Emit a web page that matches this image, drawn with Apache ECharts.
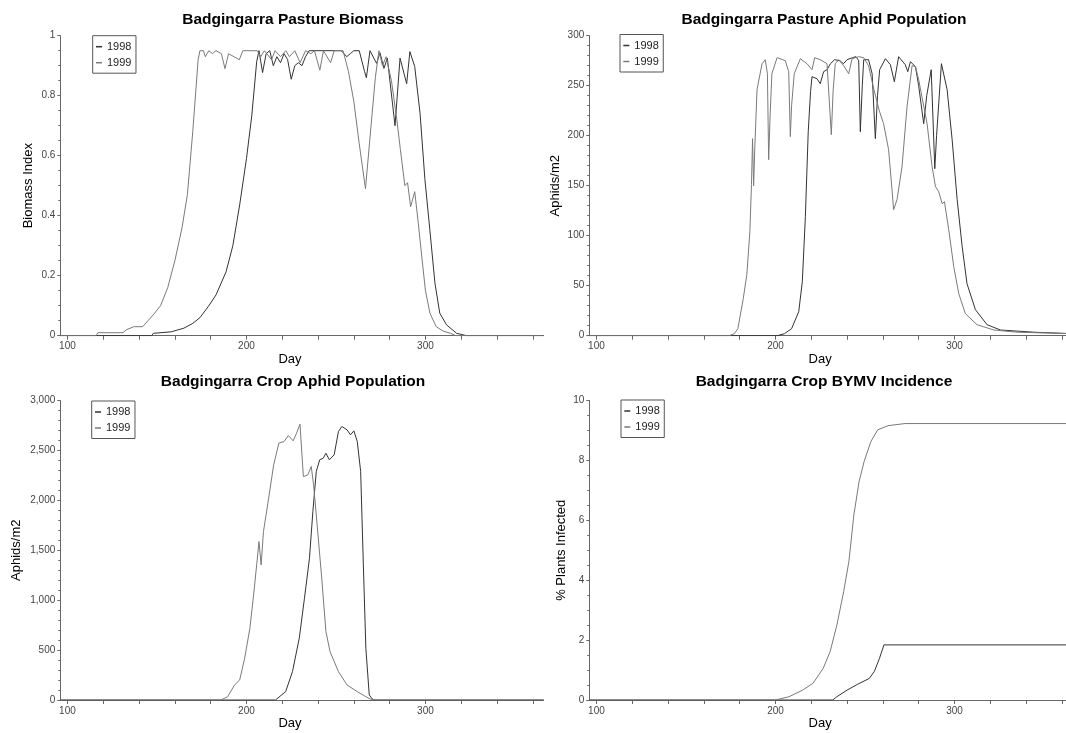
<!DOCTYPE html>
<html>
<head>
<meta charset="utf-8">
<script src="https://cdn.jsdelivr.net/npm/echarts@6/dist/echarts.min.js"></script>
<style>
  html, body { margin: 0; padding: 0; background: #fff; }
  #chart { width: 1066px; height: 733px; }
</style>
</head>
<body>
<div id="chart"></div>
<script>
// x axis ticks (day of year)
const xTickDays = [100, 120, 140, 160, 180, 200, 220, 240, 260, 280, 300, 320, 340, 360];
const xLabelDays = [100, 200, 300];

// pasture biomass index
const bioDays1998 = [96,147,148,158,165,170,174,179,183,188.6,192.4,196.2,200,203,205.7,207,209,211,213,215,217,219,221,223,225,227,229,231,233,235,240,245,250,253,256,258,260,263,266,267,269,272.7,274.6,276.8,278.7,283,285.8,289.5,291.3,294,297,299.7,302.5,305.3,308,311.8,317.4,323,366];
const bio1998 = [0,0,0.008,0.013,0.025,0.041,0.06,0.10,0.136,0.213,0.30,0.436,0.59,0.735,0.913,0.95,0.877,0.94,0.95,0.90,0.93,0.91,0.94,0.92,0.855,0.90,0.91,0.90,0.93,0.95,0.95,0.95,0.95,0.95,0.93,0.94,0.95,0.95,0.88,0.86,0.95,0.908,0.943,0.891,0.925,0.70,0.925,0.84,0.947,0.897,0.74,0.52,0.35,0.175,0.075,0.036,0.008,0,0];
const bioDays1999 = [96,116,117,131,133,137,142,145,148,152,156,160,164,167,170,173,174,176,177,179,181,183,186,188,190,193,196,198,206,208,210,214,216,219,222,224,227,230,233,236,238,241,243,247,249,254,257,260,263,266.5,269,272,274,276,278,281,284,286,288.5,290,291.7,294,296,298,300,302.5,306,310,314,317,366];
const bio1999 = [0,0,0.01,0.01,0.02,0.03,0.03,0.05,0.07,0.10,0.16,0.25,0.36,0.47,0.68,0.92,0.95,0.95,0.93,0.95,0.94,0.95,0.94,0.89,0.94,0.93,0.92,0.95,0.95,0.93,0.95,0.92,0.95,0.93,0.95,0.93,0.95,0.91,0.95,0.94,0.95,0.885,0.95,0.91,0.95,0.95,0.88,0.78,0.64,0.49,0.66,0.86,0.95,0.90,0.93,0.85,0.72,0.62,0.50,0.51,0.43,0.48,0.375,0.26,0.15,0.075,0.03,0.015,0.008,0,0];

// pasture aphids per m2
const aphDays1998 = [96,201,205,209,213,215,216.7,218.3,219.6,220.4,223.2,225,226.9,228.8,230.7,233,236,238,240,243,245,246.5,247.4,248.5,249.3,252,254,255.8,257,258.2,261.4,264.2,266.4,268.8,272.5,273.9,275.4,278.2,280,282.8,284.5,287,289,290,292.7,295.9,298.7,301.5,304.3,307,311.7,318.2,325.7,344.3,366];
const aph1998 = [0,0,2,7,24,54,119,204,244,259,257,252,264,266,272,276,275,272,276,278,279,275,204,250,276,276,262,197,240,266,277,271,254,279,271,264,274,269,250,212,240,266,167,200,272,246,196,136,89,52,26,11,5.7,3.5,2];
const aphDays1999 = [96,174,177,179,182,184,185.7,186.6,187.2,187.8,188.5,189.7,192.5,194.3,195.5,196.2,197,198,200.9,205.5,207.4,208.3,209,210.5,213.9,217.6,220.4,221.9,225,228.8,231.2,232.2,233.4,235.3,238.1,240.9,242.8,246.5,249.3,252,255,258,260.4,263.2,265.1,266,267.9,270.7,273.5,276.3,278.2,280,284.7,287.5,289.4,291.2,293.1,294.4,296.8,299.6,302.4,306.1,312.6,322,335,366];
const aph1999 = [0,0,2,7,37,61,104,151,197,150,190,246,272,276,262,176,220,262,278,275,264,199,230,262,277,272,266,278,276,272,201,245,272,276,270,262,277,279,278,270,246,225,212,186,146,126,136,169,229,270,269,256,212,169,149,144,132,134,106,69,42,22,11,5.7,3.5,2];

// crop aphids per m2
const cropDays1998 = [96,216.2,221.9,225.7,229.5,232.4,235.2,237.1,239,240.9,242.9,244.4,246.3,249,251.4,253.3,256.2,258.1,260,261.9,263.8,265.3,266.7,268.6,270.5,272,366];
const crop1998 = [0,0,84,284,618,1019,1420,1888,2289,2406,2422,2472,2406,2456,2690,2740,2706,2656,2696,2589,2289,1353,518,50,7,0,0];
const cropDays1999 = [96,185.7,189.5,193.3,196.2,199,201.9,203.8,205.7,207,208.2,209.5,212.4,215.2,218.1,221,223.4,226.1,228,229.9,231.8,234.3,236.2,237.5,239,241.9,244.4,246.7,251.4,256.2,261.9,266.7,269.5,273,366];
const crop1999 = [0,0,33,150,200,418,718,1019,1353,1587,1353,1687,2021,2355,2573,2589,2649,2596,2673,2763,2238,2255,2339,2155,1854,1253,685,484,284,150,84,33,7,0,0];

// BYMV incidence, % plants infected
const bymvDays1998 = [96,232,234.3,240,245.7,252.4,255.2,258.1,260.6,366];
const bymv1998 = [0,0,0.11,0.33,0.52,0.72,0.95,1.39,1.84,1.84];
const bymvDays1999 = [96,200,207.6,215.2,221,226.7,230.5,234.3,238.1,241,243.8,246.7,249.5,253.3,257.1,262.9,272.4,366];
const bymv1999 = [0,0,0.11,0.33,0.56,1.06,1.61,2.5,3.62,4.62,6.18,7.29,7.96,8.63,9.02,9.16,9.23,9.23];

const FONT = '"Liberation Sans", Arial, Helvetica, sans-serif';
const AXIS = '#666';
const C98 = '#333';
const C99 = '#7a7a7a';

const pairs = (d, v) => d.map((x, i) => [x, v[i]]);

function makeX(i, max, shift, gap) {
  return {
    gridIndex: i, type: 'value', min: 96, max: max,
    name: 'Day', nameLocation: 'middle', nameGap: gap,
    nameTextStyle: { fontSize: 13, color: '#000', fontFamily: FONT, padding: [0, shift, 0, 0] },
    axisLine: { lineStyle: { color: AXIS, width: 1 } },
    axisTick: { customValues: xTickDays, length: 4, lineStyle: { color: AXIS } },
    axisLabel: { customValues: xLabelDays, fontSize: 10, color: '#444', margin: 6, fontFamily: FONT },
    splitLine: { show: false }
  };
}

function makeY(i, max, interval, minor, name, gap, fmt) {
  return {
    gridIndex: i, type: 'value', min: 0, max: max, interval: interval,
    name: name, nameLocation: 'middle', nameGap: gap,
    nameTextStyle: { fontSize: 13, color: '#000', fontFamily: FONT },
    axisLine: { show: true, lineStyle: { color: AXIS, width: 1 } },
    axisTick: { show: true, length: 3, lineStyle: { color: AXIS } },
    minorTick: { show: true, splitNumber: minor, length: 2, lineStyle: { color: AXIS } },
    axisLabel: { fontSize: 10, color: '#444', margin: 5, fontFamily: FONT, formatter: fmt },
    splitLine: { show: false },
    minorSplitLine: { show: false }
  };
}

function makeLegend(left, top) {
  return {
    left: left, top: top, orient: 'vertical',
    data: ['1998', '1999'],
    icon: 'rect', itemWidth: 6, itemHeight: 1.5, itemGap: 3,
    padding: [4.5, 4.5, 4, 3.3],
    borderColor: '#555', borderWidth: 1,
    selectedMode: false,
    textStyle: { fontSize: 11, color: '#222', lineHeight: 13, fontFamily: FONT }
  };
}

function makeLine(name, i, data) {
  const c = name === '1998' ? C98 : C99;
  return {
    name: name, type: 'line', xAxisIndex: i, yAxisIndex: i,
    data: data, symbol: 'none', showSymbol: false,
    lineStyle: { width: 1, color: c }, itemStyle: { color: c }
  };
}

function title(text, x, y) {
  return {
    type: 'text', x: x, y: y,
    style: {
      text: text, fill: '#000', fontSize: 15.5, fontWeight: 'bold', fontFamily: FONT,
      textAlign: 'center', align: 'center', textVerticalAlign: 'middle', verticalAlign: 'middle'
    }
  };
}

const myChart = echarts.init(document.getElementById('chart'));

const options = {
  animation: false,
  backgroundColor: '#fff',
  grid: [
    { left: 60.3, top: 35.7, width: 483.3, height: 300 },
    { left: 589.3, top: 35.7, right: 0, height: 300 },
    { left: 60.3, top: 400.5, width: 483.3, height: 299.5 },
    { left: 589.3, top: 400.5, right: 0, height: 299.5 }
  ],
  xAxis: [
    makeX(0, 366, 24, 14),
    makeX(1, 362.3, 15, 14),
    makeX(2, 366, 24, 10),
    makeX(3, 362.3, 15, 10)
  ],
  yAxis: [
    makeY(0, 1, 0.2, 4, 'Biomass Index', 25),
    makeY(1, 300, 50, 5, 'Aphids/m2', 27),
    makeY(2, 3000, 500, 5, 'Aphids/m2', 37, v => v.toLocaleString('en-US')),
    makeY(3, 10, 2, 4, '% Plants Infected', 21)
  ],
  legend: [
    makeLegend(92.7, 35.7),
    makeLegend(620, 34.5),
    makeLegend(91.7, 401),
    makeLegend(621, 400)
  ],
  graphic: [
    title('Badgingarra Pasture Biomass', 293, 20),
    title('Badgingarra Pasture Aphid Population', 824, 20),
    title('Badgingarra Crop Aphid Population', 293, 382),
    title('Badgingarra Crop BYMV Incidence', 824, 382)
  ],
  series: [
    makeLine('1998', 0, pairs(bioDays1998, bio1998)),
    makeLine('1999', 0, pairs(bioDays1999, bio1999)),
    makeLine('1998', 1, pairs(aphDays1998, aph1998)),
    makeLine('1999', 1, pairs(aphDays1999, aph1999)),
    makeLine('1998', 2, pairs(cropDays1998, crop1998)),
    makeLine('1999', 2, pairs(cropDays1999, crop1999)),
    makeLine('1998', 3, pairs(bymvDays1998, bymv1998)),
    makeLine('1999', 3, pairs(bymvDays1999, bymv1999))
  ]
};

myChart.setOption(options);
</script>
</body>
</html>
